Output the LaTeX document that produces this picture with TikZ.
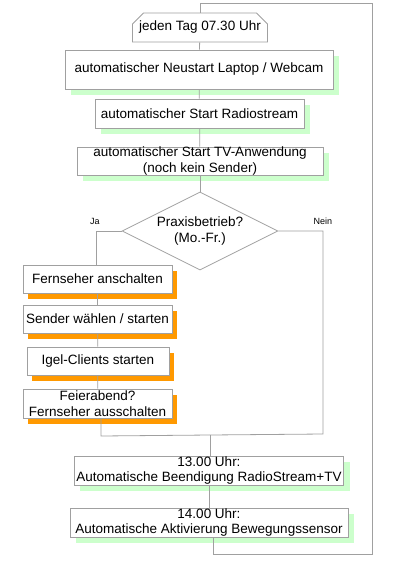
\documentclass[tikz,border=0pt]{standalone}
\usepackage{fontspec}
\setmainfont{Liberation Sans}
\usetikzlibrary{shapes.geometric,shapes.misc,shadows}

\definecolor{linegray}{HTML}{A0A0A0}
\definecolor{greenshade}{HTML}{CCFFCC}
\definecolor{orangeshade}{HTML}{FF9900}

\begin{document}
\begin{tikzpicture}[x=1pt, y=-1pt,
  every node/.style={font=\fontsize{13.5}{15.5}\selectfont, align=center},
  box/.style={draw=linegray, fill=white, inner xsep=2pt, inner ysep=0pt, line width=0.8pt},
  greenbox/.style={box, copy shadow={shadow xshift=6pt, shadow yshift=-6pt, fill=greenshade, draw=none}},
  orangebox/.style={box, copy shadow={shadow xshift=5pt, shadow yshift=-6pt, fill=orangeshade, draw=none}},
  flow/.style={draw=linegray, line width=0.8pt},
  answer/.style={font=\fontsize{9}{10}\selectfont}]

\useasboundingbox (0,0) rectangle (400,566);

% top of the day
\node[draw=linegray, fill=white, line width=0.8pt, chamfered rectangle, chamfered rectangle corners={north west,north east}, chamfered rectangle sep=5.5pt, minimum width=135pt, minimum height=29pt, inner sep=0pt] (start) at (200,27.5) {jeden Tag 07.30 Uhr};
\node[greenbox, minimum width=268pt, minimum height=39pt] (neustart) at (199,69.5) {automatischer Neustart Laptop / Webcam};
\node[greenbox, minimum width=209pt, minimum height=29pt] (radio) at (199.5,113.5) {automatischer Start Radiostream};
\node[greenbox, minimum width=246pt, minimum height=28pt] (tv) at (200,161) {automatischer Start TV-Anwendung\\(noch kein Sender)};

% decision
\node[draw=linegray, fill=white, line width=0.8pt, diamond, aspect=2, minimum width=156pt, minimum height=78pt, inner sep=0pt] (praxis) at (200,231) {Praxisbetrieb?\\(Mo.-Fr.)};
\node[answer] (ja) at (95,221) {Ja};
\node[answer] (nein) at (323,221) {Nein};

% working days
\node[orangebox, minimum width=149pt, minimum height=28pt] (fernan) at (97.5,279) {Fernseher anschalten};
\node[orangebox, minimum width=149pt, minimum height=28pt] (sender) at (97.5,319) {Sender w\"ahlen / starten};
\node[orangebox, minimum width=142pt, minimum height=28pt] (igel) at (98,361) {Igel-Clients starten};
\node[orangebox, minimum width=149pt, minimum height=29pt] (feier) at (97.5,403.5) {Feierabend?\\Fernseher ausschalten};

% afternoon
\node[greenbox, minimum width=268pt, minimum height=29pt] (beend) at (209,470.5) {13.00 Uhr:\\Automatische Beendigung RadioStream+TV};
\node[greenbox, minimum width=278pt, minimum height=29pt] (sensor) at (209,522.5) {14.00 Uhr:\\Automatische Aktivierung Bewegungssensor};

\coordinate (jaknick) at (96,231);
\coordinate (neinknick) at (323,231);
\coordinate (neinunten) at (323,434);
\coordinate (feierunten) at (101,436);
\coordinate (merge) at (210,435);
\coordinate (loopa) at (213,554);
\coordinate (loopb) at (372,554);
\coordinate (loopc) at (372,3);
\coordinate (loopd) at (200,3);

\draw[flow] (start) -- (neustart);
\draw[flow] (neustart) -- (radio);
\draw[flow] (radio) -- (tv);
\draw[flow] (tv) -- (praxis);
\draw[flow] (praxis.west) -- (jaknick) -- (jaknick |- fernan.north);
\draw[flow] (fernan) -- (sender);
\draw[flow] (sender) -- (igel);
\draw[flow] (igel) -- (feier);
\draw[flow] (feier.south -| feierunten) -- (feierunten) -- (merge);
\draw[flow] (praxis.east) -- (neinknick) -- (neinunten) -- (merge);
\draw[flow] (merge) -- (merge |- beend.north);
\draw[flow] (beend) -- (sensor);
\draw[flow] (sensor.south -| loopa) -- (loopa) -- (loopb) -- (loopc) -- (loopd) -- (start.north);
\end{tikzpicture}
\end{document}
